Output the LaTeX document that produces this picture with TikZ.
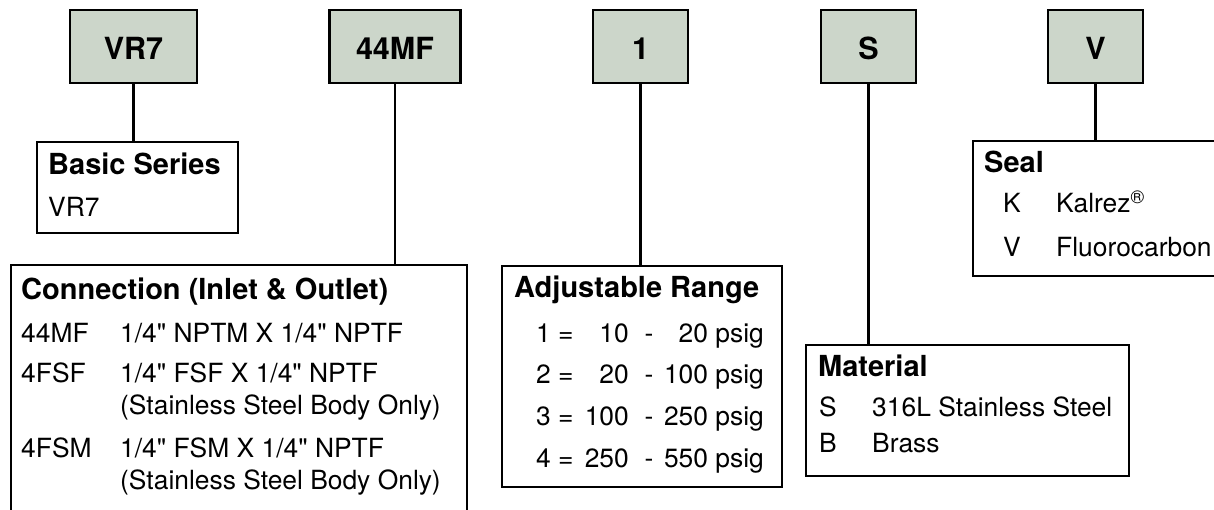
\documentclass[tikz,border=0pt]{standalone}
\usepackage{fontspec}
\setmainfont{TeX Gyre Heros}[Ligatures=TeXOff]
\definecolor{codegreen}{RGB}{204, 214, 202}

\begin{document}
\begin{tikzpicture}[x=1pt, y=-1pt, line width=2.4pt,
        codebox/.style={draw, fill=codegreen, inner sep=0pt, minimum height=73pt, text height=27pt,
            font=\fontsize{30.5}{36}\selectfont\bfseries},
        descbox/.style={draw, anchor=north west, inner sep=0pt},
        head/.style={anchor=base west, inner sep=0pt, font=\fontsize{29}{34}\selectfont\bfseries},
        item/.style={anchor=base west, inner sep=0pt, font=\fontsize{26.4}{31}\selectfont},
        link/.style={line width=2.2pt}]
        \clip (0,0) rectangle (1214,510);

        % code boxes along the top
        \foreach \n/\t/\x/\w in {vr/VR7/133.5/127, mf/44MF/395/131, rng/1/640.5/95, mat/S/868.5/95, seal/V/1095.5/95} {
            \node[codebox, minimum width=\w pt] (code\n) at (\x, 46.5) {\t};
        }

        % basic series
        \node[descbox, minimum width=201pt, minimum height=91pt] (basic) at (36, 141) {};
        \node[head] (basichead) at (47, 175) {Basic Series};
        \node[item] (basicvr) at (47, 217) {VR7};

        % connection
        \node[descbox, minimum width=456pt, minimum height=270pt] (conn) at (10, 264) {};
        \node[head] (connhead) at (20, 300) {Connection (Inlet \& Outlet)};
        \node[item] (conna) at (20, 342) {44MF};
        \node[item] (connad) at (119, 342) {1/4" NPTM X 1/4" NPTF};
        \node[item] (connb) at (20, 382) {4FSF};
        \node[item] (connbd) at (119, 382) {1/4" FSF X 1/4" NPTF};
        \node[item] (connbn) at (119, 414) {(Stainless Steel Body Only)};
        \node[item] (connc) at (20, 457) {4FSM};
        \node[item] (conncd) at (119, 457) {1/4" FSM X 1/4" NPTF};
        \node[item] (conncn) at (119, 489) {(Stainless Steel Body Only)};

        % adjustable range
        \node[descbox, minimum width=280pt, minimum height=221pt] (range) at (501, 265) {};
        \node[head] (rangehead) at (513, 298) {Adjustable Range};
        \foreach \k/\lo/\hi/\y in {1/10/20/342, 2/20/100/383, 3/100/250/425, 4/250/550/467} {
            \node[item] (rk\k) at (535, \y) {\k\ =};
            \node[item, anchor=base east] (rlo\k) at (630, \y) {\lo};
            \node[item, anchor=base] (rdash\k) at (649, \y) {-};
            \node[item, anchor=base east] (rhi\k) at (765, \y) {\hi\ psig};
        }

        % material
        \node[descbox, minimum width=323pt, minimum height=131pt] (material) at (805, 344) {};
        \node[head] (mathead) at (817, 376) {Material};
        \node[item] (mats) at (818, 416) {S};
        \node[item] (matsd) at (871, 416) {316L Stainless Steel};
        \node[item] (matb) at (818, 452) {B};
        \node[item] (matbd) at (871, 452) {Brass};

        % seal
        \node[descbox, minimum width=260pt, minimum height=135pt] (seal) at (972, 140) {};
        \node[head] (sealhead) at (983, 173) {Seal};
        \node[item] (sealk) at (1002, 213) {K};
        \node[item] (sealkd) at (1055, 213) {Kalrez\textsuperscript{\textregistered}};
        \node[item] (sealv) at (1002, 257) {V};
        \node[item] (sealvd) at (1055, 257) {Fluorocarbon};

        % connectors
        \draw[link] (codevr.south) -- (codevr.south |- basic.north);
        \draw[link] (codemf.south) -- (codemf.south |- conn.north);
        \draw[link] (coderng.south) -- (coderng.south |- range.north);
        \draw[link] (codemat.south) -- (codemat.south |- material.north);
        \draw[link] (codeseal.south) -- (codeseal.south |- seal.north);
    \end{tikzpicture}
\end{document}
